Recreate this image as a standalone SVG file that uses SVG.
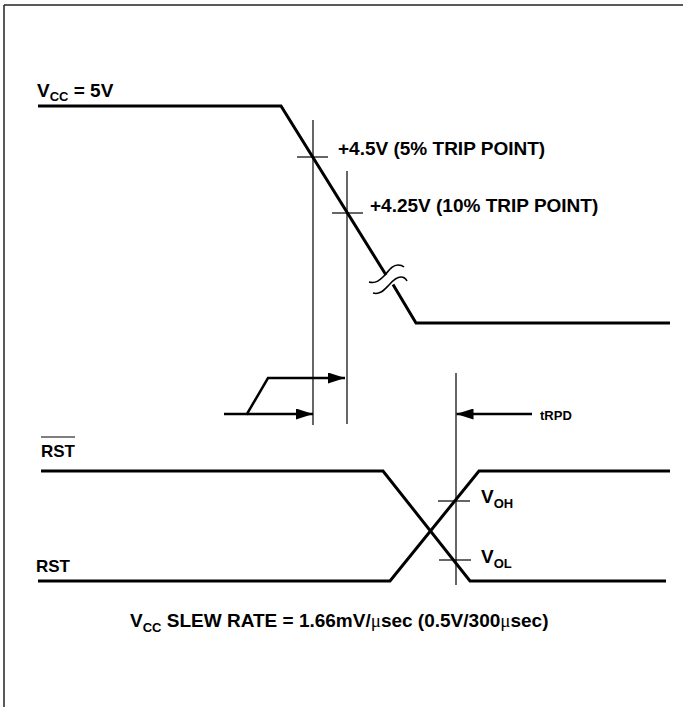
<svg xmlns="http://www.w3.org/2000/svg" width="683" height="707" viewBox="0 0 683 707">
<style>
.wave{fill:none;stroke:#000;stroke-width:3;stroke-linejoin:miter}
.thin{fill:none;stroke:#000;stroke-width:1.2}
.brk{fill:none;stroke:#000;stroke-width:1.6}
.arr{fill:none;stroke:#000;stroke-width:2.5}
.t{font-family:"Liberation Sans",Arial,sans-serif;font-weight:bold;font-size:19px;fill:#000}
.sm{font-size:13px}
.lbl{font-size:17px}
.mu{font-family:"Liberation Serif","Times New Roman",serif;font-weight:normal}
</style>
<defs>
<marker id="ah" viewBox="0 0 17 11" refX="17" refY="5.5" markerWidth="17" markerHeight="11" markerUnits="userSpaceOnUse" orient="auto">
<path d="M0,0 L17,5.5 L0,11 Z" fill="#000"/>
</marker>
</defs>
<rect width="683" height="707" fill="#fff"/>
<g id="frame">
<line x1="4" y1="5" x2="683" y2="5" stroke="#222" stroke-width="1.5"/>
<line x1="4" y1="5" x2="4" y2="707" stroke="#222" stroke-width="1.5"/>
</g>
<g id="vcc">
<text class="t" x="37" y="97">V<tspan class="sm" dy="4">CC</tspan><tspan dy="-4"> = 5V</tspan></text>
<polyline class="wave" points="38,106 281,106 386,275"/>
<polyline class="wave" points="393,284.5 416,323 670,323"/>
<path class="brk" d="M369,282 C376,284 380,280 385,275 C390,269 393,265 398,265 C401,265 403,266 404,267"/>
<path class="brk" d="M373,293 C380,295 384,290 389,285 C394,279 397,277 401,277 C404,277 406,279 407,281"/>
</g>
<g id="trip5">
<line class="thin" x1="313" y1="120" x2="313" y2="425"/>
<line class="thin" x1="297" y1="157" x2="328" y2="157"/>
<text class="t" x="338" y="155">+4.5V (5% TRIP POINT)</text>
</g>
<g id="trip10">
<line class="thin" x1="347" y1="171" x2="347" y2="424"/>
<line class="thin" x1="332" y1="213" x2="363" y2="213"/>
<text class="t" x="370" y="212">+4.25V (10% TRIP POINT)</text>
</g>
<g id="rstbar">
<text class="t lbl" x="41" y="457">RST</text>
<line x1="41" y1="437" x2="75" y2="437" stroke="#000" stroke-width="1.2"/>
<polyline class="wave" points="41,471 383,471 470,581 666,581"/>
</g>
<g id="rst">
<text class="t lbl" x="36" y="572">RST</text>
<polyline class="wave" points="38,581 390,581 479,471 670,471"/>
</g>
<g id="trpd">
<line class="thin" x1="456" y1="373" x2="456" y2="585"/>
<text class="t sm" x="540" y="420">tRPD</text>
</g>
<g id="voh">
<line class="thin" x1="438" y1="501" x2="470" y2="501"/>
<text class="t" x="481" y="503">V<tspan class="sm" dy="5">OH</tspan></text>
</g>
<g id="vol">
<line class="thin" x1="439" y1="560" x2="471" y2="560"/>
<text class="t" x="481" y="563">V<tspan class="sm" dy="5">OL</tspan></text>
</g>
<g id="connectors">
<polyline class="arr" points="224,414 247,414 268,378 345,378" marker-end="url(#ah)"/>
<line class="arr" x1="247" y1="414" x2="313" y2="414" marker-end="url(#ah)"/>
<line class="arr" x1="532" y1="414" x2="456.5" y2="414" marker-end="url(#ah)"/>
</g>
<g id="caption">
<text class="t" x="130" y="627">V<tspan class="sm" dy="5">CC</tspan><tspan dy="-5"> SLEW RATE = 1.66mV/</tspan><tspan class="mu">μ</tspan>sec (0.5V/300<tspan class="mu">μ</tspan>sec)</text>
</g>
</svg>
